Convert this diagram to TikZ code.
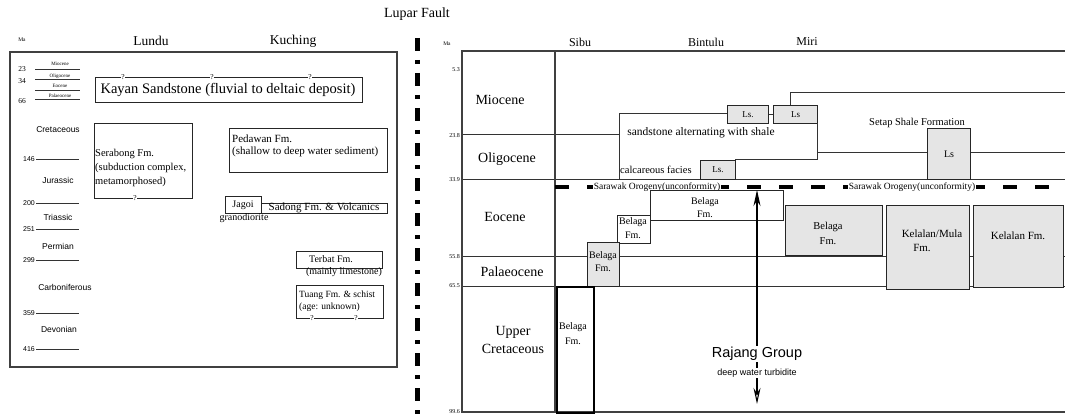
\documentclass[tikz,border=0pt]{standalone}
\usepackage{fontspec}
\setmainfont{Liberation Serif}
\setsansfont{Liberation Sans}
\usetikzlibrary{arrows.meta}
\begin{document}
\begin{tikzpicture}[x=1pt,y=-1pt,
  frame/.style={draw=black!75,line width=1.3pt},
  bx/.style={draw=black!85,line width=1pt},
  gbx/.style={bx,fill=black!10},
  ln/.style={draw=black!80,line width=1pt},
  T/.style={inner sep=0pt,font=\fontsize{#1}{#1}\selectfont},
  S/.style={inner sep=0pt,font=\sffamily\fontsize{#1}{#1}\selectfont},
  q/.style={inner sep=0.6pt,fill=white,font=\fontsize{7.5}{7.5}\selectfont},
  oro/.style={line width=3.5pt,dash pattern=on 14pt off 18pt},
  fault/.style={line width=5pt,dash pattern=on 13pt off 9pt on 4pt off 9pt},
  wt/.style={fill=white,inner sep=1pt}]
\useasboundingbox (0,0) rectangle (1065,417);

% ---------------- Lupar Fault ----------------
\node[T=14] (lupar) at (417,14) {Lupar Fault};
\coordinate (ftop) at (417,38);
\coordinate (fbot) at (417,417);
\draw[fault] (ftop) -- (fbot);

% ---------------- Left panel ----------------
\draw[frame] (10,52) rectangle (397,367);
\node[T=5.5] (maL) at (22,40) {Ma};
\node[T=13.5] (lundu) at (151,41) {Lundu};
\node[T=13.5] (kuching) at (293,41) {Kuching};

% small epochs at top
\node[T=5] (mio) at (60,64) {Miocene};
\node[T=5] (oli) at (60,76) {Oligocene};
\node[T=5] (eoc) at (60,86) {Eocene};
\node[T=5] (pal) at (60,96) {Palaeocene};
\draw[ln] (35,70) -- (80,70);
\draw[ln] (35,80) -- (80,80);
\draw[ln] (35,90.5) -- (80,90.5);
\draw[ln] (35,100) -- (80,100);
\node[T=7.5] (n23) at (22,69) {23};
\node[T=7.5] (n34) at (22,81) {34};
\node[T=7.5] (n66) at (22,101) {66};

% periods
\node[S=8.5] (cret) at (58,130) {Cretaceous};
\node[S=8.5] (jur) at (58,180) {Jurassic};
\node[S=8.5] (tri) at (58,217) {Triassic};
\node[S=8.5] (perm) at (58,246) {Permian};
\node[S=8.5] (carb) at (65,287) {Carboniferous};
\node[S=8.5] (dev) at (59,329) {Devonian};
\foreach \y/\v in {159/146,203/200,229/251,260/299,313/359,349/416}{
  \draw[ln] (36,\y) -- (79,\y);
  \node[S=7,anchor=east] (age\v) at (35,\y) {\v};
}

% Kayan Sandstone
\node[bx,minimum width=267pt,minimum height=25pt,anchor=north west,inner sep=0pt] (kayan) at (95,77) {};
\node[T=14.5] (kayant) at (228,90) {Kayan Sandstone (fluvial to deltaic deposit)};
\node[q] (kq1) at (123,77) {?};
\node[q] (kq2) at (212,77) {?};
\node[q] (kq3) at (310,77) {?};

% Serabong
\node[bx,minimum width=98pt,minimum height=75pt,anchor=north west,inner sep=0pt] (serab) at (94,123) {};
\node[T=10.5,anchor=west] (serab1) at (95,154) {Serabong Fm.};
\node[T=10.5,anchor=west] (serab2) at (95,168) {(subduction complex,};
\node[T=10.5,anchor=west] (serab3) at (95,182) {metamorphosed)};
\node[q] (sq) at (135,198) {?};

% Pedawan
\node[bx,minimum width=158pt,minimum height=44pt,anchor=north west,inner sep=0pt] (pedawan) at (229,128) {};
\node[T=11,anchor=west] (ped1) at (232,139) {Pedawan Fm.};
\node[T=11,anchor=west] (ped2) at (232,152) {(shallow to deep water sediment)};

% Jagoi & Sadong
\node[bx,minimum width=36pt,minimum height=17pt,anchor=north west,inner sep=0pt] (jagoi) at (225,196) {};
\node[T=10] (jagoit) at (243,205) {Jagoi};
\node[T=10] (grano) at (244,218) {granodiorite};
\node[bx,minimum width=126pt,minimum height=10pt,anchor=north west,inner sep=0pt] (sadong) at (261,203) {};
\node[T=11] (sadongt) at (324,208) {Sadong Fm. \& Volcanics};

% Terbat
\node[bx,minimum width=86pt,minimum height=17pt,anchor=north west,inner sep=0pt] (terbat) at (296,251) {};
\node[T=10] (terbatt) at (331,259) {Terbat Fm.};
\node[T=10] (terbat2) at (344,272) {(mainly limestone)};

% Tuang
\node[bx,minimum width=87pt,minimum height=33pt,anchor=north west,inner sep=0pt] (tuang) at (296,285) {};
\node[T=9.5,anchor=west] (tuang1) at (299,295) {Tuang Fm. \& schist};
\node[T=9.5,anchor=west] (tuang2) at (299,307) {(age: unknown)};
\node[q] (tq1) at (312,318) {?};
\node[q] (tq2) at (356,318) {?};

% ---------------- Right panel ----------------
\node[T=5.5] (maR) at (447,44) {Ma};
\node[T=12] (sibu) at (580,42) {Sibu};
\node[T=12] (bintulu) at (706,42) {Bintulu};
\node[T=12] (miri) at (807,42) {Miri};

% horizon lines (behind boxes)
\draw[ln] (462,135) -- (619,135);
\draw[ln] (462,179) -- (1065,179);
\draw[ln] (462,256) -- (1065,256);
\draw[ln] (462,286) -- (1065,286);

\draw[frame] (1065,51) -- (462,51) -- (462,412) -- (1065,412);
\draw[frame] (555,51) -- (555,412);

\foreach \y/\v in {70/5.3,136/23.8,180/33.9,257/55.8,286/65.5,412/99.6}{
  \node[T=6,anchor=east] (r\v) at (460,\y) {\v};
}

\node[T=14] (miocene) at (500,100) {Miocene};
\node[T=14] (oligocene) at (507,159) {Oligocene};
\node[T=14] (eocene) at (505,217) {Eocene};
\node[T=14] (palaeocene) at (512,272) {Palaeocene};
\node[T=14] (upper) at (513,332) {Upper};
\node[T=14] (cretac) at (513,349) {Cretaceous};

% sandstone / Ls system
\draw[ln] (619,179) -- (619,114) -- (727,114);
\node[gbx,minimum width=41pt,minimum height=18pt,anchor=north west,inner sep=0pt] (ls1) at (727,105) {};
\node[T=9] at (ls1) {Ls.};
\node[gbx,minimum width=44pt,minimum height=18pt,anchor=north west,inner sep=0pt] (ls2) at (773,105) {};
\node[T=9] at (ls2) {Ls};
\draw[ln] (ls1.east) -- (ls2.west);
\draw[ln] (790,105) -- (790,93) -- (1065,93);
\draw[ln] (817,123) -- (817,159) -- (735,159);
\draw[ln] (817,152) -- (927,152);
\draw[ln] (970,152) -- (1065,152);
\node[T=11.5] (sand) at (701,133) {sandstone alternating with shale};
\node[T=10.5,anchor=west] (calc) at (620,170) {calcareous facies};
\node[gbx,minimum width=35pt,minimum height=19pt,anchor=north west,inner sep=0pt] (ls3) at (700,160) {};
\node[T=9] at (ls3) {Ls.};
\node[T=10.5] (setap) at (917,123) {Setap Shale Formation};
\node[gbx,minimum width=43pt,minimum height=51pt,anchor=north west,inner sep=0pt] (ls4) at (927,128) {};
\node[T=10] at (ls4) {Ls};

% Sarawak Orogeny
\coordinate (oroL) at (555,187);
\coordinate (oroR) at (1065,187);
\draw[oro] (oroL) -- (oroR);
\node[T=9.5,wt] (oro1) at (657,187) {Sarawak Orogeny(unconformity)};
\node[T=9.5,wt] (oro2) at (912,187) {Sarawak Orogeny(unconformity)};

% Belaga boxes
\node[bx,fill=white,minimum width=133pt,minimum height=30pt,anchor=north west,inner sep=0pt] (bel1) at (650,190) {};
\node[T=10] at (705,202) {Belaga};
\node[T=10] at (705,214) {Fm.};
\node[bx,fill=white,minimum width=33pt,minimum height=28pt,anchor=north west,inner sep=0pt] (bel2) at (617,215) {};
\node[T=10] at (633,222) {Belaga};
\node[T=10] at (633,235) {Fm.};
\node[gbx,minimum width=32pt,minimum height=44pt,anchor=north west,inner sep=0pt] (bel3) at (587,242) {};
\node[T=10] at (603,256) {Belaga};
\node[T=10] at (603,268) {Fm.};
\node[gbx,minimum width=97pt,minimum height=50pt,anchor=north west,inner sep=0pt] (bel4) at (785,205) {};
\node[T=10.5] at (828,227) {Belaga};
\node[T=10.5] at (828,241) {Fm.};
\node[gbx,minimum width=83pt,minimum height=84pt,anchor=north west,inner sep=0pt] (kelm) at (886,205) {};
\node[T=11] at (932,234) {Kelalan/Mula};
\node[T=11] at (922,248) {Fm.};
\node[gbx,minimum width=90pt,minimum height=82pt,anchor=north west,inner sep=0pt] (kel) at (973,205) {};
\node[T=11] at (1018,236) {Kelalan Fm.};
\node[draw=black,line width=1.6pt,minimum width=37pt,minimum height=126pt,anchor=north west,inner sep=0pt] (bel5) at (556,286) {};
\node[T=10] at (573,327) {Belaga};
\node[T=10] at (573,341) {Fm.};

% Rajang arrow
\coordinate (atop) at (757,190);
\coordinate (abot) at (757,404);
\draw[line width=1.1pt,{Stealth[length=16pt,width=7pt,open]}-{Stealth[length=16pt,width=7pt]}] (abot) -- (atop);
\node[S=14.5,wt] (rajang) at (757,354) {Rajang Group};
\node[S=9,wt] (deep) at (757,373) {deep water turbidite};
\end{tikzpicture}
\end{document}
